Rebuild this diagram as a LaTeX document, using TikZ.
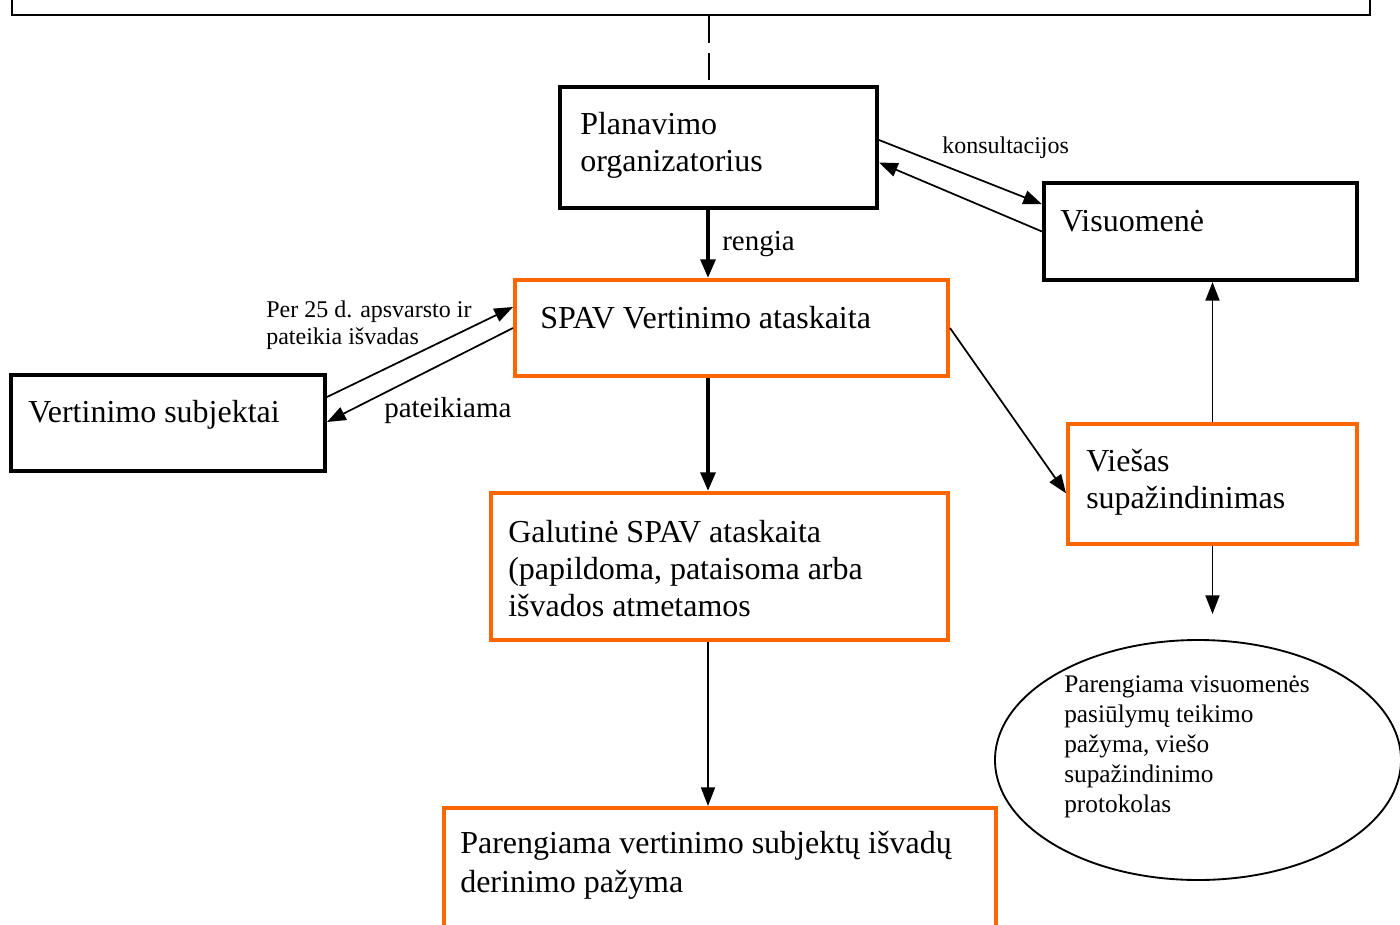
\documentclass[tikz,border=0pt]{standalone}
\usepackage{fontspec}
\setmainfont{Liberation Serif}
\usetikzlibrary{arrows.meta,fit,calc,shapes.geometric}
\definecolor{orangeC}{RGB}{255,102,0}
\begin{document}
\begin{tikzpicture}[x=0.75pt,y=-0.75pt,
  blk/.style={draw=black,line width=3pt,inner sep=0pt},
  org/.style={draw=orangeC,line width=3pt,inner sep=0pt},
  txt/.style={anchor=base west,inner sep=0pt,align=left,font=\fontsize{24}{27.5}\selectfont},
  lab/.style={anchor=base west,inner sep=0pt,align=left,font=\fontsize{18}{20.25}\selectfont},
  mlab/.style={anchor=base west,inner sep=0pt,font=\fontsize{21.75}{25}\selectfont},
  conn/.style={line width=1.3pt,-{Triangle[length=14pt,width=10.5pt]}},
  tconn/.style={line width=3pt,-{Triangle[length=14pt,width=11pt]}}]
\useasboundingbox (0,0) rectangle (1400,925);
\clip (0,0) rectangle (1400,925);
% boxes
\node[draw=black,line width=1.5pt,inner sep=0pt,fit={(12,-40) (1370,15)}] (top) {};
\node[blk,fit={(560,87) (877,208)}] (plan) {};
\node[blk,fit={(1044,183) (1357,280)}] (visu) {};
\node[org,fit={(515,280) (948,376)}] (spav) {};
\node[blk,fit={(11,375) (325,471)}] (vs) {};
\node[org,fit={(1068,424) (1357,544)}] (vies) {};
\node[org,fit={(491,493) (948,640)}] (gal) {};
\node[org,fit={(444,808) (996,970)}] (par) {};
\node[draw=black,line width=1.4pt,ellipse,inner sep=0pt,minimum width=304.5pt,minimum height=180pt] (ell) at (1198,760) {};
% texts (multi-line nodes: base = last line's baseline)
\node[txt] (planT) at (580,171) {Planavimo\\organizatorius};
\node[txt] (visuT) at (1060,231) {Visuomenė};
\node[txt] (spavT) at (540,328) {SPAV Vertinimo ataskaita};
\node[txt] (vsT) at (28,422) {Vertinimo subjektai};
\node[txt] (viesT) at (1086,508) {Viešas\\supažindinimas};
\node[txt] (galT) at (508,616) {Galutinė SPAV ataskaita\\(papildoma, pataisoma arba\\išvados atmetamos};
\node[txt,font=\fontsize{24}{29.25}\selectfont] (parT) at (460,892) {Parengiama vertinimo subjektų išvadų\\derinimo pažyma};
\node[anchor=base west,inner sep=0pt,align=left,font=\fontsize{19}{22.5}\selectfont] (ellT) at (1064,812) {Parengiama visuomenės\\pasiūlymų teikimo\\pažyma, viešo\\supažindinimo\\protokolas};
% labels
\node[lab] (konsL) at (942,153) {konsultacijos};
\node[mlab] (rengL) at (722,250) {rengia};
\node[mlab] (pateL) at (384,417) {pateikiama};
\node[lab] (perL) at (266,344) {Per 25 d. apsvarsto ir\\pateikia išvadas};
% helper coordinates
\coordinate (dx) at (709,0);
\coordinate (cx) at (708,0);
\coordinate (ellTop) at (1212.5,614);
% connectors
\draw[line width=1.5pt,dash pattern=on 20.25pt off 7.5pt] (top.south -| dx) -- (plan.north -| dx);
\draw[tconn] (plan.south -| cx) -- (spav.north -| cx);
\draw[tconn] (spav.south -| cx) -- (gal.north -| cx);
\draw[conn] (gal.south -| cx) -- (par.north -| cx);
\draw[conn] ($(plan.north east)!0.44!(plan.south east)$) -- ($(visu.north west)!0.23!(visu.south west)$);
\draw[conn] (visu.west) -- ($(plan.north east)!0.62!(plan.south east)$);
\draw[conn] ($(vs.north east)!0.24!(vs.south east)$) -- ($(spav.north west)!0.29!(spav.south west)$);
\draw[conn] (spav.west) -- ($(vs.north east)!0.49!(vs.south east)$);
\draw[conn] (spav.east) -- ($(vies.north west)!0.575!(vies.south west)$);
\draw[conn] (vies.north) -- (vies.north |- visu.south);
\draw[conn] (vies.south) -- (ellTop);
\end{tikzpicture}
\end{document}
